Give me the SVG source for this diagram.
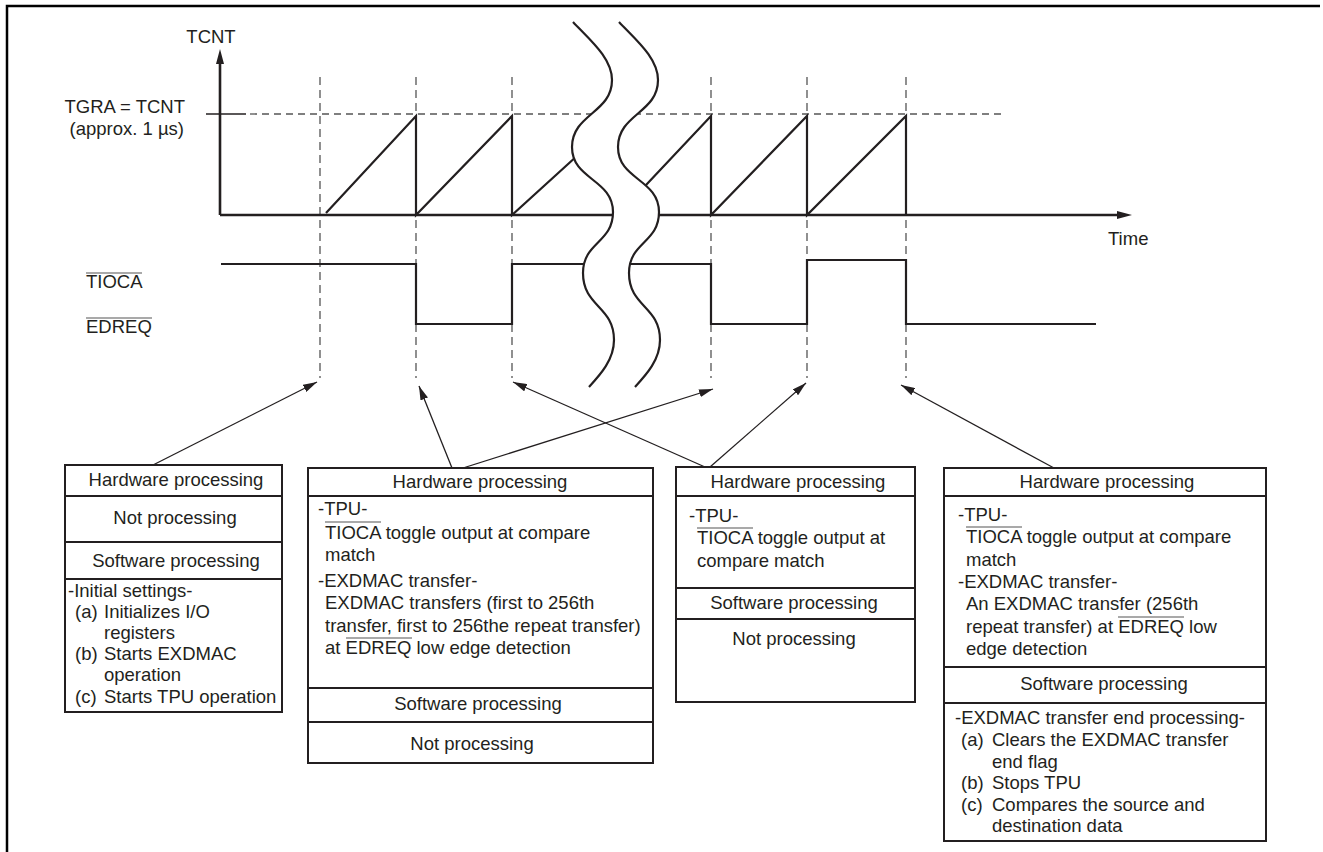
<svg xmlns="http://www.w3.org/2000/svg" width="1323" height="852" viewBox="0 0 1323 852">
<style>
.t{font-family:"Liberation Sans",Arial,Helvetica,sans-serif;font-size:18.5px;fill:#231f20}
.c{text-anchor:middle}
.e{text-anchor:end}
.box{fill:#fff;stroke:#231f20;stroke-width:2}
.div{stroke:#231f20;stroke-width:2}
.ov{stroke:#555;stroke-width:1.2}
.dv{stroke:#555;stroke-width:1.3;stroke-dasharray:8 5;fill:none}
.dh{stroke:#555;stroke-width:1.3;stroke-dasharray:7 5;fill:none}
.sig{stroke:#231f20;stroke-width:2.2;fill:none;stroke-linejoin:miter}
.axis{stroke:#231f20;stroke-width:2.6;fill:none}
.wave{stroke:#231f20;stroke-width:2.2;fill:none}
.conn line{stroke:#231f20;stroke-width:1.3;marker-end:url(#ah)}
</style>
<defs>
<marker id="ah" markerUnits="userSpaceOnUse" markerWidth="15" markerHeight="8" refX="14" refY="4" orient="auto">
<path d="M0,0 L14,4 L0,8 Z" fill="#231f20"/>
</marker>
</defs>
<rect width="1323" height="852" fill="#fff"/>
<path d="M7,852 V6 H1320" fill="none" stroke="#000" stroke-width="2.5"/>

<g id="chart">
<path class="dv" d="M320,77 V378 M416,77 V378 M512,77 V378 M711,77 V378 M807,77 V378 M906,77 V378"/>
<line x1="206" y1="114" x2="246" y2="114" stroke="#231f20" stroke-width="1.3"/>
<line class="dh" x1="250" y1="114" x2="1004" y2="114"/>
<path class="axis" d="M220,215 V60 M220,215 H1120"/>
<path d="M220,49 L224,64 L216,64 Z M1132,215 L1117,211 L1117,219 Z" fill="#231f20"/>
<path class="sig" d="M326,213 L416,116 V215 L512,116 V215 L600,135 M630,202 L711,116 V215 L807,116 V215 L906,116 V215"/>
<path class="sig" d="M221,264 H416 V324 H512 V264 H600 M620,264 H711 V324 H807 V260 H906 V324 H1096"/>
<path d="M573,22 C590,40 612,58 612,80 C612,113 572,114 572,147 C572,180 613,179 613,212 C613,243 583,242 583,273 C583,307 614,306 614,340 C614,360 600,375 589,387 L635,387 C646,375 660,360 660,340 C660,306 629,307 629,273 C629,242 659,243 659,212 C659,179 618,180 618,147 C618,114 658,113 658,80 C658,58 636,40 619,22 Z" fill="#fff"/>
<path class="wave" d="M573,22 C590,40 612,58 612,80 C612,113 572,114 572,147 C572,180 613,179 613,212 C613,243 583,242 583,273 C583,307 614,306 614,340 C614,360 600,375 589,387"/>
<path class="wave" d="M619,22 C636,40 658,58 658,80 C658,113 618,114 618,147 C618,180 659,179 659,212 C659,243 629,242 629,273 C629,307 660,306 660,340 C660,360 646,375 635,387"/>
<text class="t c" x="211" y="43">TCNT</text>
<text class="t e" x="185" y="113">TGRA = TCNT</text>
<text class="t e" x="184" y="135">(approx. 1 µs)</text>
<text class="t" x="1108" y="245">Time</text>
<text class="t" x="86" y="288">TIOCA</text>
<line class="ov" x1="86" y1="273" x2="142" y2="273"/>
<text class="t" x="86" y="333">EDREQ</text>
<line class="ov" x1="86" y1="318" x2="152" y2="318"/>
</g>

<g id="connectors" class="conn">
<line x1="153" y1="465" x2="317" y2="382"/>
<line x1="452" y1="468" x2="419" y2="386"/>
<line x1="463" y1="468" x2="713" y2="389"/>
<line x1="705" y1="467" x2="513" y2="382"/>
<line x1="710" y1="467" x2="806" y2="383"/>
<line x1="1054" y1="468" x2="901" y2="385"/>
</g>

<g id="box1">
<rect class="box" x="65" y="465" width="217" height="247"/>
<path class="div" d="M65,496 H282 M65,542 H282 M65,579 H282"/>
<text class="t c" x="176" y="486">Hardware processing</text>
<text class="t c" x="175" y="524">Not processing</text>
<text class="t c" x="176" y="567">Software processing</text>
<text class="t" x="68" y="597">-Initial settings-</text>
<text class="t" x="75" y="618">(a)</text><text class="t" x="104" y="618">Initializes I/O</text>
<text class="t" x="104" y="639">registers</text>
<text class="t" x="75" y="660">(b)</text><text class="t" x="104" y="660">Starts EXDMAC</text>
<text class="t" x="104" y="681">operation</text>
<text class="t" x="75" y="703">(c)</text><text class="t" x="104" y="703">Starts TPU operation</text>
</g>

<g id="box2">
<rect class="box" x="308" y="468" width="345" height="295"/>
<path class="div" d="M308,496 H653 M308,688 H653 M308,722 H653"/>
<text class="t c" x="480" y="488">Hardware processing</text>
<text class="t" x="318" y="515">-TPU-</text>
<text class="t" x="325" y="539">TIOCA toggle output at compare</text>
<line class="ov" x1="325" y1="522" x2="381" y2="522"/>
<text class="t" x="325" y="561">match</text>
<text class="t" x="318" y="587">-EXDMAC transfer-</text>
<text class="t" x="325" y="609">EXDMAC transfers (first to 256th</text>
<text class="t" x="325" y="632">transfer, first to 256the repeat transfer)</text>
<text class="t" x="325" y="654">at EDREQ low edge detection</text>
<line class="ov" x1="346" y1="638" x2="412" y2="638"/>
<text class="t c" x="478" y="710">Software processing</text>
<text class="t c" x="472" y="750">Not processing</text>
</g>

<g id="box3">
<rect class="box" x="676" y="467" width="239" height="235"/>
<path class="div" d="M676,496 H915 M676,588 H915 M676,619 H915"/>
<text class="t c" x="798" y="488">Hardware processing</text>
<text class="t" x="689" y="522">-TPU-</text>
<text class="t" x="697" y="544">TIOCA toggle output at</text>
<line class="ov" x1="697" y1="528" x2="753" y2="528"/>
<text class="t" x="697" y="567">compare match</text>
<text class="t c" x="794" y="609">Software processing</text>
<text class="t c" x="794" y="645">Not processing</text>
</g>

<g id="box4">
<rect class="box" x="944" y="468" width="322" height="373"/>
<path class="div" d="M944,496 H1266 M944,667 H1266 M944,703 H1266"/>
<text class="t c" x="1107" y="488">Hardware processing</text>
<text class="t" x="958" y="521">-TPU-</text>
<text class="t" x="966" y="543">TIOCA toggle output at compare</text>
<line class="ov" x1="966" y1="527" x2="1022" y2="527"/>
<text class="t" x="966" y="566">match</text>
<text class="t" x="958" y="588">-EXDMAC transfer-</text>
<text class="t" x="966" y="610">An EXDMAC transfer (256th</text>
<text class="t" x="966" y="633">repeat transfer) at EDREQ low</text>
<line class="ov" x1="1118" y1="617" x2="1184" y2="617"/>
<text class="t" x="966" y="655">edge detection</text>
<text class="t c" x="1104" y="690">Software processing</text>
<text class="t" x="955" y="724">-EXDMAC transfer end processing-</text>
<text class="t" x="961" y="746">(a)</text><text class="t" x="992" y="746">Clears the EXDMAC transfer</text>
<text class="t" x="992" y="768">end flag</text>
<text class="t" x="961" y="789">(b)</text><text class="t" x="992" y="789">Stops TPU</text>
<text class="t" x="961" y="811">(c)</text><text class="t" x="992" y="811">Compares the source and</text>
<text class="t" x="992" y="832">destination data</text>
</g>
</svg>
